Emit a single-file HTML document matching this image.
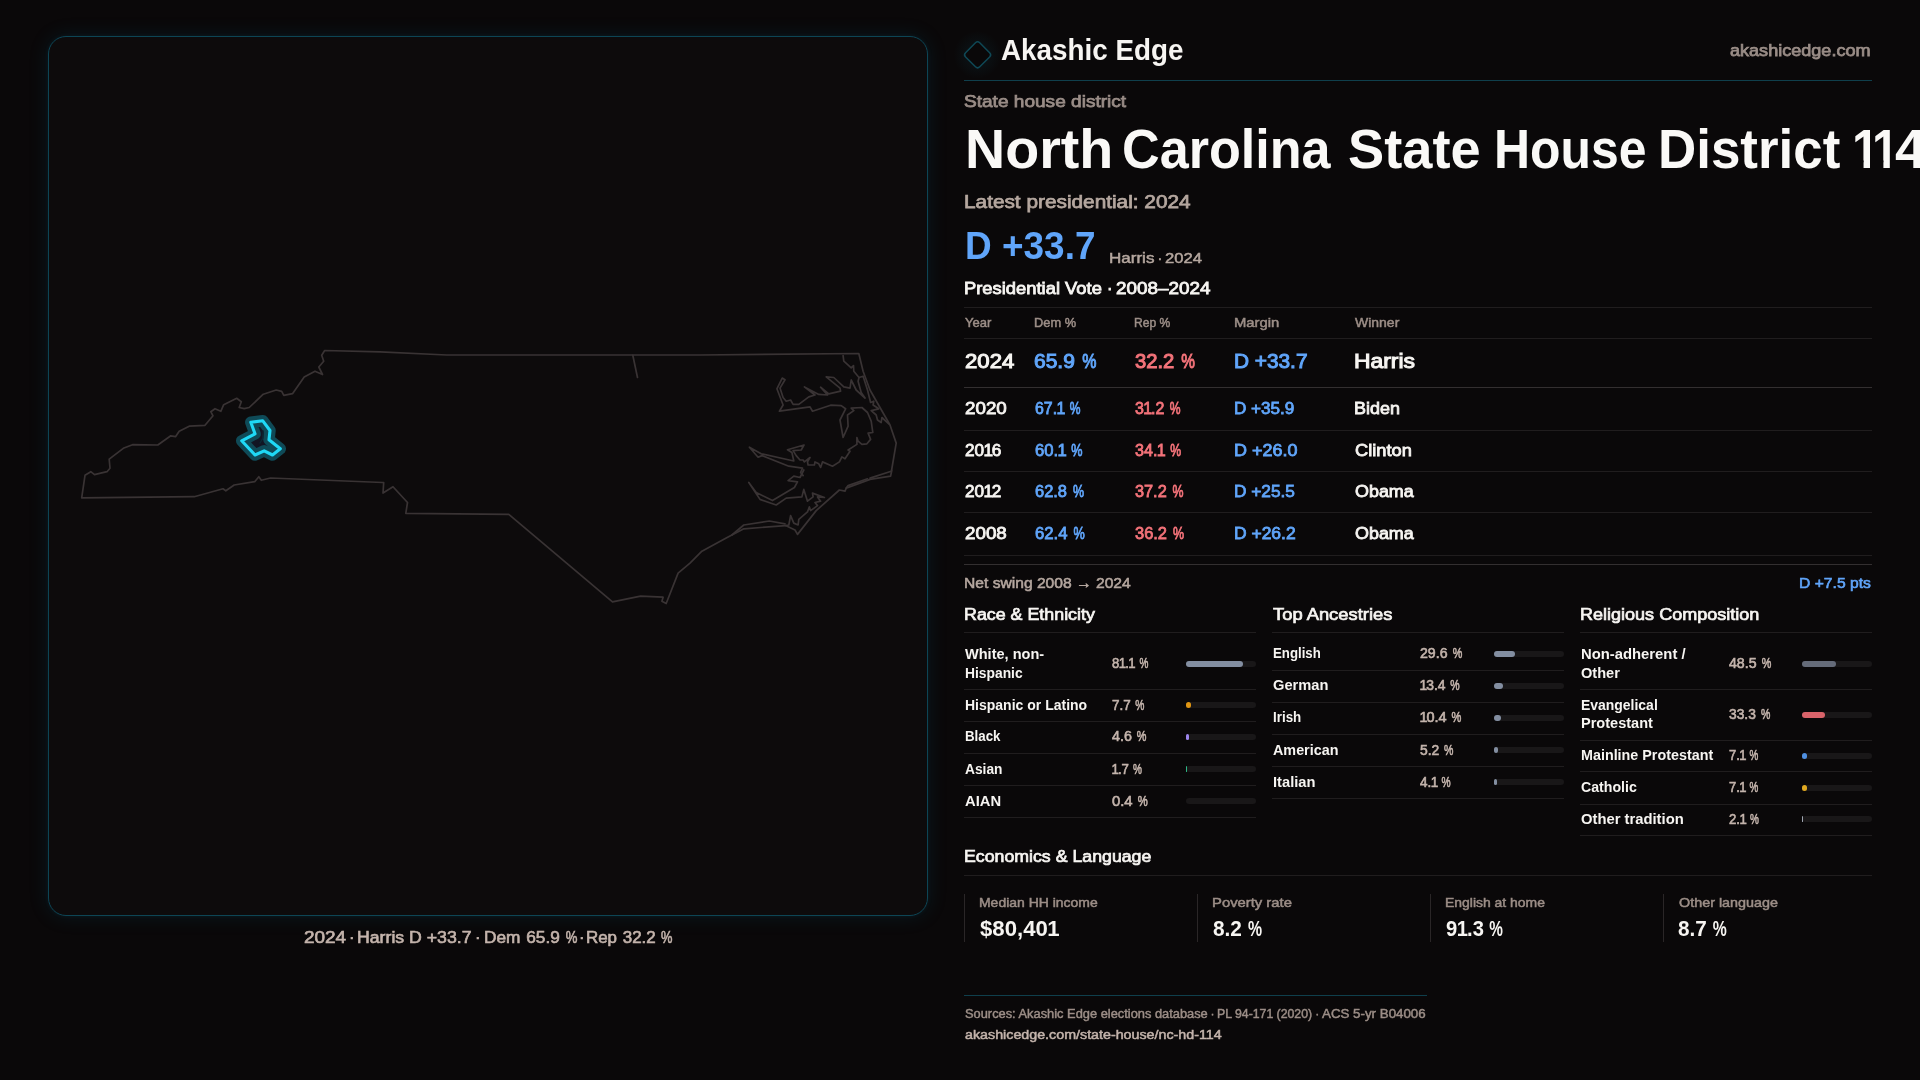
<!DOCTYPE html>
<html lang="en"><head><meta charset="utf-8"><title>North Carolina State House District 114 — Akashic Edge</title>
<style>
html,body{margin:0;padding:0}
body{width:1920px;height:1080px;overflow:hidden;background:#0a0809;font-family:"Liberation Sans",sans-serif;position:relative;color:#f7f5f2}
.t{position:absolute;white-space:nowrap;line-height:1;transform-origin:0 0;display:block}
.d{margin:0 -0.1em}
.o{margin:0 -0.07em 0 -0.04em}
.ob{margin:0 -0.05em 0 -0.02em}
.p{display:inline-block;transform:scaleX(0.76);transform-origin:0 0;margin-right:-0.2134em}
.r{position:absolute;height:1px}
.bt{position:absolute;width:70px;height:6px;border-radius:3px;background:#191718}
.bf{position:absolute;left:0;top:0;height:6px;border-radius:3px}
.card{position:absolute;top:894px;width:1px;height:48px;background:#2a2627}
#panel{position:absolute;left:48px;top:36px;width:878px;height:878px;border:1px solid #0d4555;border-radius:18px;background:#0d0b0c;box-shadow:0 0 20px rgba(20,130,160,0.15),0 0 5px rgba(20,130,160,0.08)}
#map{position:absolute;left:0;top:0}
#logo{position:absolute;left:0;top:0}
#txt{position:absolute;left:0;top:0;width:1920px;height:1080px;will-change:transform;-webkit-font-smoothing:antialiased}
</style></head><body>
<div id="panel"></div>
<svg id="map" width="960" height="1080" viewBox="0 0 960 1080" fill="none" stroke-linejoin="round" stroke-linecap="round">
<g stroke="#393334" stroke-width="1.7">
<path d="M81.7,497.8 L85.0,475.3 L90.8,471.7 L94.5,474.7 L107.0,471.7 L110.0,468.3 L109.2,459.2 L123.3,448.3 L132.5,444.7 L157.8,445.0 L170.8,435.8 L175.5,436.7 L179.2,431.3 L189.2,426.2 L205.0,425.3 L213.0,415.8 L210.8,411.7 L215.0,408.7 L220.8,411.3 L223.7,404.7 L236.7,398.3 L241.3,401.7 L239.2,407.5 L244.2,408.7 L249.2,407.5 L263.3,394.2 L276.2,390.0 L281.7,391.3 L283.8,395.3 L292.5,393.7 L304.2,377.0 L315.0,371.2 L322.5,374.5 L318.8,367.0 L323.7,361.3 L321.7,355.3 L324.7,350.5 L380.0,351.8 L446.7,355.0 L700.0,355.0 L858.8,353.5 L858.8,353.5 L863.1,371.2 L870.0,390.0 L890.0,425.0 L896.2,443.1 L891.2,472.5 L891.9,470.0 L890.6,476.2 L870.0,479.4 L846.2,488.1 L845.0,491.2 L839.4,490.0 L816.2,510.6 L797.5,534.4 L795.0,530.0 L785.6,525.6 L743.8,528.8 L731.9,535.0 L726.2,538.1 L701.9,551.2 L690.0,563.1 L678.1,573.1 L666.2,603.5 L661.9,601.2 L663.1,597.2 L640.6,596.2 L612.5,601.9 L508.8,514.4 L405.8,513.3 L407.5,502.5 L393.0,486.7 L383.0,493.0 L383.7,482.5 L382.5,482.5 L270.5,478.0 L261.3,480.3 L258.8,476.7 L254.7,481.7 L234.2,485.0 L225.8,490.8 L223.0,488.8 L194.2,496.7 L81.7,497.8Z"/>
<path d="M632.8,355.3 L637.5,377.5"/>
<path d="M843.1,355.6 L843.8,361.2 L851.2,367.8 L853.5,365.6 L853.8,371.2 L859.0,377.5 L858.1,381.2 L861.2,392.5 L865.0,398.1 L856.2,390.0 L851.2,380.0 L850.0,388.1 L843.8,386.9 L833.8,377.5 L826.2,376.9 L840.0,388.1 L840.6,391.2 L828.8,393.8 L820.6,387.2 L827.5,395.0 L818.8,394.4 L804.4,386.9 L815.0,395.0 L808.8,396.9 L798.8,404.4 L793.1,404.4 L790.6,400.0 L786.2,401.2 L783.1,397.5 L780.0,388.1 L785.0,379.8 L782.2,378.1 L776.9,388.8 L783.1,405.0 L779.4,411.2 L810.0,406.9 L812.5,411.2 L830.6,405.2 L841.2,405.6 L845.6,408.8 L840.0,420.0 L843.1,437.5 L848.1,426.2 L847.5,415.0 L853.8,410.6 L851.2,408.1 L861.9,407.5 L867.5,412.5 L871.2,421.2 L872.8,432.5 L868.1,433.1 L870.6,439.4 L866.9,443.8 L861.9,444.4 L858.1,441.2 L856.9,437.5 L856.9,444.4 L848.1,450.0 L850.0,451.2 L845.0,458.8 L841.9,456.9 L839.4,461.9 L832.5,466.2 L822.5,461.9 L820.6,467.5 L818.8,463.8 L815.0,461.9 L814.4,465.0 L808.1,465.0 L807.5,461.9 L810.0,457.5 L804.4,461.9 L803.1,460.0 L800.0,460.0 L796.2,455.6 L793.1,450.6 L801.2,450.0 L804.0,445.0 L787.5,449.8 L791.9,452.5 L793.8,461.0 L761.2,453.8 L749.4,447.2 L758.1,457.2 L761.9,455.6 L788.8,466.2 L802.5,468.1 L800.6,472.5 L803.1,475.6"/>
<path d="M803.8,470.0 L800.0,477.5 L793.8,476.2 L788.1,480.6 L797.5,481.9 L794.4,487.5 L772.5,500.6 L756.2,492.5 L748.8,482.5 L760.0,499.4 L776.2,505.0 L786.2,498.1 L801.9,496.9 L803.8,489.4 L807.5,501.2 L813.1,496.9 L812.5,493.1 L824.4,497.5 L817.5,496.9 L820.6,501.2 L815.0,502.5 L817.5,505.6 L810.6,510.6 L809.4,506.9 L807.5,511.9 L798.8,519.4 L798.1,525.0 L793.8,523.1 L790.6,515.6 L788.8,525.0 L785.6,525.6"/>
<path d="M859.0,377.5 L863.1,376.2 L867.5,390.0 L870.6,402.5 L873.8,401.2 L873.1,405.0 L878.8,408.8 L871.2,410.6 L876.2,415.0 L877.5,420.0 L881.2,422.5 L881.9,417.5 L888.8,423.8"/>
<path d="M785.0,523.8 L769.4,521.0 L743.8,525.0 L731.9,535.0"/>
<path d="M870.0,478.1 L891.2,471.2"/>
<path d="M846.2,488.1 L848.1,485.6 L867.5,478.8"/>
</g>
<path d="M250.8,422.2 L262.8,420.8 L270.0,430.5 L269.0,439.7 L280.3,448.8 L272.5,455.0 L264.2,450.8 L255.0,455.0 L241.7,440.8 L255.0,433.8Z" stroke="#0f4a57" stroke-width="11.5" fill="#121523"/>
<path d="M263.3,430.8 L262.8,438.3 L260.0,443.0" stroke="#0b2a35" stroke-width="1.3"/>
<path d="M250.8,422.2 L262.8,420.8 L270.0,430.5 L269.0,439.7 L280.3,448.8 L272.5,455.0 L264.2,450.8 L255.0,455.0 L241.7,440.8 L255.0,433.8Z" stroke="#1fd8f5" stroke-width="3.1"/>
</svg>
<svg id="logo" width="1920" height="100" viewBox="0 0 1920 100" fill="none"><defs><radialGradient id="lg" cx="50%" cy="50%" r="50%"><stop offset="0" stop-color="#1590b0" stop-opacity="0.10"/><stop offset="0.55" stop-color="#1590b0" stop-opacity="0.05"/><stop offset="1" stop-color="#1590b0" stop-opacity="0"/></radialGradient></defs><circle cx="977.6" cy="54.8" r="24" fill="url(#lg)"/><rect x="967.6" y="44.8" width="20" height="20" rx="3" transform="rotate(45 977.6 54.8)" stroke="#0f4856" stroke-width="1.5" fill="#0a0809"/></svg>
<div class="r" style="left:964px;top:80px;width:908px;background:#0f3f4c"></div>
<div class="r" style="left:964px;top:307px;width:908px;background:#201d1e"></div>
<div class="r" style="left:964px;top:338px;width:908px;background:#201d1e"></div>
<div class="r" style="left:964px;top:387px;width:908px;background:#332f30"></div>
<div class="r" style="left:964px;top:430px;width:908px;background:#201d1e"></div>
<div class="r" style="left:964px;top:471px;width:908px;background:#201d1e"></div>
<div class="r" style="left:964px;top:512px;width:908px;background:#201d1e"></div>
<div class="r" style="left:964px;top:555px;width:908px;background:#201d1e"></div>
<div class="r" style="left:964px;top:564px;width:908px;background:#332f30"></div>
<div class="r" style="left:964px;top:875px;width:908px;background:#201d1e"></div>
<div class="r" style="left:964px;top:995px;width:463px;background:#0f3f4c"></div>
<div class="r" style="left:964px;top:632px;width:292px;background:#201d1e"></div>
<div class="r" style="left:1272px;top:632px;width:292px;background:#201d1e"></div>
<div class="r" style="left:1580px;top:632px;width:292px;background:#201d1e"></div>
<div class="r" style="left:964px;top:689px;width:292px;background:#201d1e"></div>
<div class="r" style="left:964px;top:721px;width:292px;background:#201d1e"></div>
<div class="r" style="left:964px;top:753px;width:292px;background:#201d1e"></div>
<div class="r" style="left:964px;top:785px;width:292px;background:#201d1e"></div>
<div class="r" style="left:964px;top:817px;width:292px;background:#201d1e"></div>
<div class="r" style="left:1272px;top:670px;width:292px;background:#201d1e"></div>
<div class="r" style="left:1272px;top:702px;width:292px;background:#201d1e"></div>
<div class="r" style="left:1272px;top:734px;width:292px;background:#201d1e"></div>
<div class="r" style="left:1272px;top:766px;width:292px;background:#201d1e"></div>
<div class="r" style="left:1272px;top:798px;width:292px;background:#201d1e"></div>
<div class="r" style="left:1580px;top:689px;width:292px;background:#201d1e"></div>
<div class="r" style="left:1580px;top:740px;width:292px;background:#201d1e"></div>
<div class="r" style="left:1580px;top:771px;width:292px;background:#201d1e"></div>
<div class="r" style="left:1580px;top:804px;width:292px;background:#201d1e"></div>
<div class="r" style="left:1580px;top:835px;width:292px;background:#201d1e"></div>
<div class="card" style="left:964px"></div>
<div class="card" style="left:1197px"></div>
<div class="card" style="left:1430px"></div>
<div class="card" style="left:1663px"></div>
<div class="bt" style="left:1186px;top:661.0px"><div class="bf" style="width:56.77px;background:#838ea1"></div></div>
<div class="bt" style="left:1186px;top:702.0px"><div class="bf" style="width:5.39px;background:#df9512"></div></div>
<div class="bt" style="left:1186px;top:734.0px"><div class="bf" style="width:3.22px;background:#9d85ec"></div></div>
<div class="bt" style="left:1186px;top:766.2px"><div class="bf" style="width:1.19px;background:#2eb886"></div></div>
<div class="bt" style="left:1186px;top:797.8px"><div class="bf" style="width:0.00px;background:#8a97ad"></div></div>
<div class="bt" style="left:1494px;top:651.0px"><div class="bf" style="width:20.72px;background:#838ea1"></div></div>
<div class="bt" style="left:1494px;top:682.8px"><div class="bf" style="width:9.38px;background:#838ea1"></div></div>
<div class="bt" style="left:1494px;top:715.0px"><div class="bf" style="width:7.28px;background:#838ea1"></div></div>
<div class="bt" style="left:1494px;top:747.0px"><div class="bf" style="width:3.64px;background:#838ea1"></div></div>
<div class="bt" style="left:1494px;top:779.0px"><div class="bf" style="width:2.87px;background:#838ea1"></div></div>
<div class="bt" style="left:1802px;top:660.8px"><div class="bf" style="width:33.95px;background:#656b79"></div></div>
<div class="bt" style="left:1802px;top:712.0px"><div class="bf" style="width:23.31px;background:#d9636a"></div></div>
<div class="bt" style="left:1802px;top:753.2px"><div class="bf" style="width:4.97px;background:#4f8fe0"></div></div>
<div class="bt" style="left:1802px;top:785.0px"><div class="bf" style="width:4.97px;background:#e0a820"></div></div>
<div class="bt" style="left:1802px;top:816.2px"><div class="bf" style="width:1.47px;background:#a0a6b2"></div></div>
<div id="txt">
<span class="t" style="left:1000.80px;top:36.00px;font-size:29.25px;color:#f7f5f2;transform:scaleX(0.9512);font-weight:700">Akashic Edge</span>
<span class="t" style="left:1729.82px;top:42.00px;font-size:16.05px;color:#9a8d87;transform:scaleX(1.1266);-webkit-text-stroke:0.75px #9a8d87">akashicedge.com</span>
<span class="t" style="left:964.33px;top:94.00px;font-size:16.55px;color:#9a8d87;transform:scaleX(1.1531);-webkit-text-stroke:0.75px #9a8d87">State house district</span>
<span class="t" style="left:964.64px;top:123.00px;font-size:54.60px;color:#faf9f7;transform:scaleX(1.0187);font-weight:700">North</span>
<span class="t" style="left:1121.84px;top:123.00px;font-size:54.60px;color:#faf9f7;transform:scaleX(0.9548);font-weight:700">Carolina</span>
<span class="t" style="left:1347.76px;top:123.00px;font-size:54.60px;color:#faf9f7;transform:scaleX(0.9932);font-weight:700">State</span>
<span class="t" style="left:1494.26px;top:123.00px;font-size:54.60px;color:#faf9f7;transform:scaleX(0.9139);font-weight:700">House</span>
<span class="t" style="left:1658.34px;top:123.00px;font-size:54.60px;color:#faf9f7;transform:scaleX(0.9694);font-weight:700">District</span>
<span class="t" style="left:1894.70px;top:123.00px;font-size:54.60px;color:#faf9f7;transform:scaleX(1.0258);font-weight:700">4</span>
<span class="t" style="left:963.80px;top:193.00px;font-size:18.51px;color:#b5a79f;transform:scaleX(1.1241);-webkit-text-stroke:0.75px #b5a79f">Latest presidential: 2024</span>
<span class="t" style="left:964.91px;top:226.00px;font-size:39.00px;color:#60a5fa;transform:scaleX(0.9475);font-weight:700">D +33.7</span>
<span class="t" style="left:1109.12px;top:251.00px;font-size:14.46px;color:#b5a79f;transform:scaleX(1.1779);-webkit-text-stroke:0.5px #b5a79f">Harris</span>
<span class="t" style="left:1165.29px;top:251.00px;font-size:14.46px;color:#b5a79f;transform:scaleX(1.1507);-webkit-text-stroke:0.5px #b5a79f">2024</span>
<span class="t" style="left:1157.50px;top:251.00px;font-size:14.46px;color:#b5a79f;transform:scaleX(1.0000);-webkit-text-stroke:0.5px #b5a79f">·</span>
<span class="t" style="left:964.33px;top:280.00px;font-size:16.48px;color:#f7f5f2;transform:scaleX(1.1157);-webkit-text-stroke:0.8px #f7f5f2">Presidential Vote</span>
<span class="t" style="left:1115.96px;top:280.00px;font-size:16.48px;color:#f7f5f2;transform:scaleX(1.1466);-webkit-text-stroke:0.8px #f7f5f2">2008–2024</span>
<span class="t" style="left:1107.00px;top:280.00px;font-size:16.48px;color:#f7f5f2;transform:scaleX(1.0000);-webkit-text-stroke:0.8px #f7f5f2">·</span>
<span class="t" style="left:965.25px;top:316.00px;font-size:12.99px;color:#9c8e87;transform:scaleX(1.0042);-webkit-text-stroke:0.5px #9c8e87">Year</span>
<span class="t" style="left:1033.51px;top:316.00px;font-size:12.99px;color:#9c8e87;transform:scaleX(0.9886);-webkit-text-stroke:0.5px #9c8e87">Dem %</span>
<span class="t" style="left:1133.55px;top:316.00px;font-size:12.99px;color:#9c8e87;transform:scaleX(0.9320);-webkit-text-stroke:0.5px #9c8e87">Rep %</span>
<span class="t" style="left:1233.64px;top:316.00px;font-size:12.99px;color:#9c8e87;transform:scaleX(1.1431);-webkit-text-stroke:0.5px #9c8e87">Margin</span>
<span class="t" style="left:1354.77px;top:316.00px;font-size:12.99px;color:#9c8e87;transform:scaleX(1.0767);-webkit-text-stroke:0.5px #9c8e87">Winner</span>
<span class="t" style="left:965.06px;top:352.00px;font-size:19.62px;color:#f7f5f2;transform:scaleX(1.1293);-webkit-text-stroke:1.0px #f7f5f2">2024</span>
<span class="t" style="left:1033.97px;top:352.00px;font-size:19.62px;color:#60a5fa;transform:scaleX(1.0700);word-spacing:0.06em;-webkit-text-stroke:1.0px #60a5fa">65.9 <span class="p">%</span></span>
<span class="t" style="left:1135.02px;top:352.00px;font-size:19.62px;color:#f4737a;transform:scaleX(1.0305);word-spacing:0.06em;-webkit-text-stroke:1.0px #f4737a">32.2 <span class="p">%</span></span>
<span class="t" style="left:1233.97px;top:352.00px;font-size:19.62px;color:#60a5fa;transform:scaleX(1.0612);-webkit-text-stroke:1.0px #60a5fa">D +33.7</span>
<span class="t" style="left:1353.92px;top:352.00px;font-size:19.62px;color:#f7f5f2;transform:scaleX(1.1670);-webkit-text-stroke:1.0px #f7f5f2">Harris</span>
<span class="t" style="left:964.96px;top:400.00px;font-size:16.48px;color:#f7f5f2;transform:scaleX(1.1401);-webkit-text-stroke:0.8px #f7f5f2">2020</span>
<span class="t" style="left:1034.89px;top:400.00px;font-size:16.48px;color:#60a5fa;transform:scaleX(0.9635);word-spacing:0.06em;-webkit-text-stroke:0.8px #60a5fa">67.<span class="o">1</span> <span class="p">%</span></span>
<span class="t" style="left:1134.89px;top:400.00px;font-size:16.48px;color:#f4737a;transform:scaleX(0.9687);word-spacing:0.06em;-webkit-text-stroke:0.8px #f4737a">3<span class="o">1</span>.2 <span class="p">%</span></span>
<span class="t" style="left:1233.88px;top:400.00px;font-size:16.48px;color:#60a5fa;transform:scaleX(1.0384);-webkit-text-stroke:0.8px #60a5fa">D +35.9</span>
<span class="t" style="left:1353.85px;top:400.00px;font-size:16.48px;color:#f7f5f2;transform:scaleX(1.0895);-webkit-text-stroke:0.8px #f7f5f2">Biden</span>
<span class="t" style="left:964.92px;top:442.00px;font-size:16.48px;color:#f7f5f2;transform:scaleX(1.0433);-webkit-text-stroke:0.8px #f7f5f2">20<span class="o">1</span>6</span>
<span class="t" style="left:1034.90px;top:442.00px;font-size:16.48px;color:#60a5fa;transform:scaleX(1.0103);word-spacing:0.06em;-webkit-text-stroke:0.8px #60a5fa">60.<span class="o">1</span> <span class="p">%</span></span>
<span class="t" style="left:1134.89px;top:442.00px;font-size:16.48px;color:#f4737a;transform:scaleX(0.9791);word-spacing:0.06em;-webkit-text-stroke:0.8px #f4737a">34.<span class="o">1</span> <span class="p">%</span></span>
<span class="t" style="left:1233.85px;top:442.00px;font-size:16.48px;color:#60a5fa;transform:scaleX(1.0903);-webkit-text-stroke:0.8px #60a5fa">D +26.0</span>
<span class="t" style="left:1354.94px;top:442.00px;font-size:16.48px;color:#f7f5f2;transform:scaleX(1.1078);-webkit-text-stroke:0.8px #f7f5f2">Clinton</span>
<span class="t" style="left:964.92px;top:483.00px;font-size:16.48px;color:#f7f5f2;transform:scaleX(1.0433);-webkit-text-stroke:0.8px #f7f5f2">20<span class="o">1</span>2</span>
<span class="t" style="left:1034.90px;top:483.00px;font-size:16.48px;color:#60a5fa;transform:scaleX(0.9986);word-spacing:0.06em;-webkit-text-stroke:0.8px #60a5fa">62.8 <span class="p">%</span></span>
<span class="t" style="left:1134.90px;top:483.00px;font-size:16.48px;color:#f4737a;transform:scaleX(0.9886);word-spacing:0.06em;-webkit-text-stroke:0.8px #f4737a">37.2 <span class="p">%</span></span>
<span class="t" style="left:1233.87px;top:483.00px;font-size:16.48px;color:#60a5fa;transform:scaleX(1.0471);-webkit-text-stroke:0.8px #60a5fa">D +25.5</span>
<span class="t" style="left:1354.93px;top:483.00px;font-size:16.48px;color:#f7f5f2;transform:scaleX(1.0872);-webkit-text-stroke:0.8px #f7f5f2">Obama</span>
<span class="t" style="left:964.96px;top:525.00px;font-size:16.48px;color:#f7f5f2;transform:scaleX(1.1401);-webkit-text-stroke:0.8px #f7f5f2">2008</span>
<span class="t" style="left:1034.91px;top:525.00px;font-size:16.48px;color:#60a5fa;transform:scaleX(1.0137);word-spacing:0.06em;-webkit-text-stroke:0.8px #60a5fa">62.4 <span class="p">%</span></span>
<span class="t" style="left:1134.90px;top:525.00px;font-size:16.48px;color:#f4737a;transform:scaleX(0.9986);word-spacing:0.06em;-webkit-text-stroke:0.8px #f4737a">36.2 <span class="p">%</span></span>
<span class="t" style="left:1233.86px;top:525.00px;font-size:16.48px;color:#60a5fa;transform:scaleX(1.0601);-webkit-text-stroke:0.8px #60a5fa">D +26.2</span>
<span class="t" style="left:1354.93px;top:525.00px;font-size:16.48px;color:#f7f5f2;transform:scaleX(1.0872);-webkit-text-stroke:0.8px #f7f5f2">Obama</span>
<span class="t" style="left:964.24px;top:576.00px;font-size:14.87px;color:#b5a79f;transform:scaleX(1.0514);-webkit-text-stroke:0.55px #b5a79f">Net swing 2008 → 2024</span>
<span class="t" style="left:1799.26px;top:576.00px;font-size:14.80px;color:#60a5fa;transform:scaleX(1.0588);-webkit-text-stroke:0.6px #60a5fa">D +7.5 pts</span>
<span class="t" style="left:963.80px;top:607.00px;font-size:16.62px;color:#f7f5f2;transform:scaleX(1.0740);-webkit-text-stroke:0.7px #f7f5f2">Race &amp; Ethnicity</span>
<span class="t" style="left:1272.89px;top:607.00px;font-size:16.62px;color:#f7f5f2;transform:scaleX(1.1049);-webkit-text-stroke:0.7px #f7f5f2">Top Ancestries</span>
<span class="t" style="left:1579.79px;top:607.00px;font-size:16.62px;color:#f7f5f2;transform:scaleX(1.0849);-webkit-text-stroke:0.7px #f7f5f2">Religious Composition</span>
<span class="t" style="left:964.50px;top:647.00px;font-size:14.62px;color:#f7f5f2;transform:scaleX(0.9956);font-weight:700">White, non-</span>
<span class="t" style="left:964.50px;top:666.00px;font-size:14.62px;color:#f7f5f2;transform:scaleX(0.9462);font-weight:700">Hispanic</span>
<span class="t" style="left:964.50px;top:698.00px;font-size:14.62px;color:#f7f5f2;transform:scaleX(0.9583);font-weight:700">Hispanic or Latino</span>
<span class="t" style="left:964.50px;top:729.00px;font-size:14.62px;color:#f7f5f2;transform:scaleX(0.9107);font-weight:700">Black</span>
<span class="t" style="left:964.50px;top:762.00px;font-size:14.62px;color:#f7f5f2;transform:scaleX(0.9408);font-weight:700">Asian</span>
<span class="t" style="left:964.50px;top:794.00px;font-size:14.62px;color:#f7f5f2;transform:scaleX(1.0097);font-weight:700">AIAN</span>
<span class="t" style="left:1272.50px;top:646.00px;font-size:14.62px;color:#f7f5f2;transform:scaleX(0.9047);font-weight:700">English</span>
<span class="t" style="left:1272.50px;top:678.00px;font-size:14.62px;color:#f7f5f2;transform:scaleX(1.0038);font-weight:700">German</span>
<span class="t" style="left:1272.50px;top:710.00px;font-size:14.62px;color:#f7f5f2;transform:scaleX(0.9150);font-weight:700">Irish</span>
<span class="t" style="left:1272.50px;top:743.00px;font-size:14.62px;color:#f7f5f2;transform:scaleX(0.9826);font-weight:700">American</span>
<span class="t" style="left:1272.50px;top:775.00px;font-size:14.62px;color:#f7f5f2;transform:scaleX(1.0049);font-weight:700">Italian</span>
<span class="t" style="left:1580.50px;top:647.00px;font-size:14.62px;color:#f7f5f2;transform:scaleX(1.0144);font-weight:700">Non-adherent /</span>
<span class="t" style="left:1580.50px;top:666.00px;font-size:14.62px;color:#f7f5f2;transform:scaleX(0.9980);font-weight:700">Other</span>
<span class="t" style="left:1580.50px;top:698.00px;font-size:14.62px;color:#f7f5f2;transform:scaleX(0.9547);font-weight:700">Evangelical</span>
<span class="t" style="left:1580.50px;top:716.00px;font-size:14.62px;color:#f7f5f2;transform:scaleX(0.9947);font-weight:700">Protestant</span>
<span class="t" style="left:1580.50px;top:748.00px;font-size:14.62px;color:#f7f5f2;transform:scaleX(0.9808);font-weight:700">Mainline Protestant</span>
<span class="t" style="left:1580.50px;top:780.00px;font-size:14.62px;color:#f7f5f2;transform:scaleX(0.9686);font-weight:700">Catholic</span>
<span class="t" style="left:1580.50px;top:812.00px;font-size:14.62px;color:#f7f5f2;transform:scaleX(1.0125);font-weight:700">Other tradition</span>
<span class="t" style="left:1112.28px;top:657.00px;font-size:13.83px;color:#c4b4ac;transform:scaleX(0.9496);word-spacing:0.06em;-webkit-text-stroke:0.6px #c4b4ac">8<span class="o">1</span>.<span class="o">1</span> <span class="p">%</span></span>
<span class="t" style="left:1112.29px;top:699.00px;font-size:13.83px;color:#c4b4ac;transform:scaleX(0.9735);word-spacing:0.06em;-webkit-text-stroke:0.6px #c4b4ac">7.7 <span class="p">%</span></span>
<span class="t" style="left:1112.31px;top:730.00px;font-size:13.83px;color:#c4b4ac;transform:scaleX(1.0331);word-spacing:0.06em;-webkit-text-stroke:0.6px #c4b4ac">4.6 <span class="p">%</span></span>
<span class="t" style="left:1111.86px;top:763.00px;font-size:13.83px;color:#c4b4ac;transform:scaleX(0.9551);word-spacing:0.06em;-webkit-text-stroke:0.6px #c4b4ac"><span class="o">1</span>.7 <span class="p">%</span></span>
<span class="t" style="left:1112.32px;top:795.00px;font-size:13.83px;color:#c4b4ac;transform:scaleX(1.0718);word-spacing:0.06em;-webkit-text-stroke:0.6px #c4b4ac">0.4 <span class="p">%</span></span>
<span class="t" style="left:1420.31px;top:647.00px;font-size:13.83px;color:#c4b4ac;transform:scaleX(1.0225);word-spacing:0.06em;-webkit-text-stroke:0.6px #c4b4ac">29.6 <span class="p">%</span></span>
<span class="t" style="left:1419.85px;top:679.00px;font-size:13.83px;color:#c4b4ac;transform:scaleX(1.0050);word-spacing:0.06em;-webkit-text-stroke:0.6px #c4b4ac"><span class="o">1</span>3.4 <span class="p">%</span></span>
<span class="t" style="left:1419.85px;top:711.00px;font-size:13.83px;color:#c4b4ac;transform:scaleX(1.0483);word-spacing:0.06em;-webkit-text-stroke:0.6px #c4b4ac"><span class="o">1</span>0.4 <span class="p">%</span></span>
<span class="t" style="left:1420.30px;top:744.00px;font-size:13.83px;color:#c4b4ac;transform:scaleX(1.0033);word-spacing:0.06em;-webkit-text-stroke:0.6px #c4b4ac">5.2 <span class="p">%</span></span>
<span class="t" style="left:1420.29px;top:776.00px;font-size:13.83px;color:#c4b4ac;transform:scaleX(0.9761);word-spacing:0.06em;-webkit-text-stroke:0.6px #c4b4ac">4.<span class="o">1</span> <span class="p">%</span></span>
<span class="t" style="left:1728.61px;top:657.00px;font-size:13.83px;color:#c4b4ac;transform:scaleX(1.0225);word-spacing:0.06em;-webkit-text-stroke:0.6px #c4b4ac">48.5 <span class="p">%</span></span>
<span class="t" style="left:1728.60px;top:708.00px;font-size:13.83px;color:#c4b4ac;transform:scaleX(0.9983);word-spacing:0.06em;-webkit-text-stroke:0.6px #c4b4ac">33.3 <span class="p">%</span></span>
<span class="t" style="left:1728.58px;top:749.00px;font-size:13.83px;color:#c4b4ac;transform:scaleX(0.9355);word-spacing:0.06em;-webkit-text-stroke:0.6px #c4b4ac">7.<span class="o">1</span> <span class="p">%</span></span>
<span class="t" style="left:1728.58px;top:781.00px;font-size:13.83px;color:#c4b4ac;transform:scaleX(0.9355);word-spacing:0.06em;-webkit-text-stroke:0.6px #c4b4ac">7.<span class="o">1</span> <span class="p">%</span></span>
<span class="t" style="left:1728.59px;top:813.00px;font-size:13.83px;color:#c4b4ac;transform:scaleX(0.9511);word-spacing:0.06em;-webkit-text-stroke:0.6px #c4b4ac">2.<span class="o">1</span> <span class="p">%</span></span>
<span class="t" style="left:963.81px;top:849.00px;font-size:16.62px;color:#f7f5f2;transform:scaleX(1.0678);-webkit-text-stroke:0.7px #f7f5f2">Economics &amp; Language</span>
<span class="t" style="left:978.69px;top:896.00px;font-size:12.99px;color:#9c8e87;transform:scaleX(1.0747);-webkit-text-stroke:0.5px #9c8e87">Median HH income</span>
<span class="t" style="left:1211.64px;top:896.00px;font-size:12.99px;color:#9c8e87;transform:scaleX(1.1416);-webkit-text-stroke:0.5px #9c8e87">Poverty rate</span>
<span class="t" style="left:1444.70px;top:896.00px;font-size:12.99px;color:#9c8e87;transform:scaleX(1.0728);-webkit-text-stroke:0.5px #9c8e87">English at home</span>
<span class="t" style="left:1678.53px;top:896.00px;font-size:12.99px;color:#9c8e87;transform:scaleX(1.1065);-webkit-text-stroke:0.5px #9c8e87">Other language</span>
<span class="t" style="left:979.50px;top:919.00px;font-size:21.45px;color:#f7f5f2;transform:scaleX(1.0338);font-weight:700">$80,40<span class="ob">1</span></span>
<span class="t" style="left:1212.50px;top:919.00px;font-size:21.45px;color:#f7f5f2;transform:scaleX(0.9712);font-weight:700">8.2 <span class="p">%</span></span>
<span class="t" style="left:1445.50px;top:919.00px;font-size:21.45px;color:#f7f5f2;transform:scaleX(0.9403);font-weight:700">9<span class="ob">1</span>.3 <span class="p">%</span></span>
<span class="t" style="left:1678.25px;top:919.00px;font-size:21.45px;color:#f7f5f2;transform:scaleX(0.9662);font-weight:700">8.7 <span class="p">%</span></span>
<span class="t" style="left:964.74px;top:1008.00px;font-size:12.08px;color:#9c8e87;transform:scaleX(1.0634);-webkit-text-stroke:0.45px #9c8e87">Sources: Akashic Edge elections database</span>
<span class="t" style="left:1217.23px;top:1008.00px;font-size:12.08px;color:#9c8e87;transform:scaleX(1.0166);-webkit-text-stroke:0.45px #9c8e87">PL 94-171 (2020)</span>
<span class="t" style="left:1322.00px;top:1008.00px;font-size:12.08px;color:#9c8e87;transform:scaleX(1.1032);-webkit-text-stroke:0.45px #9c8e87">ACS 5-yr B04006</span>
<span class="t" style="left:1210.60px;top:1008.00px;font-size:12.08px;color:#9c8e87;transform:scaleX(1.0000);-webkit-text-stroke:0.45px #9c8e87">·</span>
<span class="t" style="left:1315.20px;top:1008.00px;font-size:12.08px;color:#9c8e87;transform:scaleX(1.0000);-webkit-text-stroke:0.45px #9c8e87">·</span>
<span class="t" style="left:964.78px;top:1029.00px;font-size:12.62px;color:#c4b4ac;transform:scaleX(1.1315);-webkit-text-stroke:0.5px #c4b4ac">akashicedge.com/state-house/nc-hd-114</span>
<span class="t" style="left:304.12px;top:930.00px;font-size:16.69px;color:#c4b4ac;transform:scaleX(1.1344);-webkit-text-stroke:0.65px #c4b4ac">2024</span>
<span class="t" style="left:356.78px;top:930.00px;font-size:16.69px;color:#c4b4ac;transform:scaleX(1.0599);-webkit-text-stroke:0.65px #c4b4ac">Harris D +33.7</span>
<span class="t" style="left:483.55px;top:930.00px;font-size:16.69px;color:#c4b4ac;transform:scaleX(1.0341);word-spacing:0.06em;-webkit-text-stroke:0.65px #c4b4ac">Dem 65.9 <span class="p">%</span></span>
<span class="t" style="left:586.32px;top:930.00px;font-size:16.69px;color:#c4b4ac;transform:scaleX(1.0137);word-spacing:0.06em;-webkit-text-stroke:0.65px #c4b4ac">Rep 32.2 <span class="p">%</span></span>
<span class="t" style="left:349.10px;top:930.00px;font-size:16.69px;color:#c4b4ac;transform:scaleX(1.0000);-webkit-text-stroke:0.65px #c4b4ac">·</span>
<span class="t" style="left:475.10px;top:930.00px;font-size:16.69px;color:#c4b4ac;transform:scaleX(1.0000);-webkit-text-stroke:0.65px #c4b4ac">·</span>
<span class="t" style="left:578.90px;top:930.00px;font-size:16.69px;color:#c4b4ac;transform:scaleX(1.0000);-webkit-text-stroke:0.65px #c4b4ac">·</span>
<span class="t" style="left:1852.09px;top:123.00px;font-size:54.60px;color:#faf9f7;font-weight:700;width:20.4px;overflow:hidden;clip-path:polygon(0 0,20.4px 0,20.4px 100%,12.8px 100%,12.8px 37.5px,0 37.5px);transform:scaleX(0.9023)">1</span>
<span class="t" style="left:1872.23px;top:123.00px;font-size:54.60px;color:#faf9f7;font-weight:700;width:20.4px;overflow:hidden;clip-path:polygon(0 0,20.4px 0,20.4px 100%,12.8px 100%,12.8px 37.5px,0 37.5px);transform:scaleX(0.8908)">1</span>
</div>
</body></html>
